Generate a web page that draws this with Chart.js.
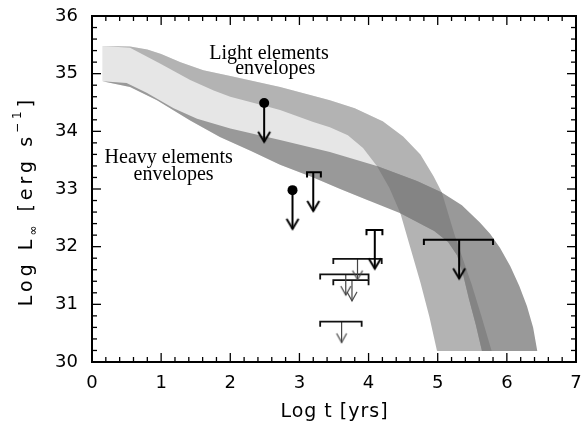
<!DOCTYPE html>
<html><head><meta charset="utf-8">
<script src="https://cdn.jsdelivr.net/npm/chart.js@4/dist/chart.umd.min.js"></script>
<style>html,body{margin:0;padding:0;background:#fff}canvas{display:block}</style>
</head><body>
<canvas id="c" width="585" height="436"></canvas>
<script>
// ---------------- data ----------------
const xTicks = [0, 1, 2, 3, 4, 5, 6, 7];
const yTicks = [30, 31, 32, 33, 34, 35, 36];

// band edges: [log t, log L]
const lightUpper = [[0.15,35.48],[0.55,35.47],[0.80,35.42],[1.00,35.34],[1.28,35.20],[1.61,35.06],[2.00,34.96],[2.72,34.77],[3.44,34.54],[3.80,34.40],[4.21,34.17],[4.50,33.91],[4.75,33.60],[4.94,33.22],[5.06,32.94],[5.14,32.62],[5.24,32.22],[5.36,31.80],[5.49,31.35],[5.63,30.80],[5.78,30.19]];
const lightLower = [[0.15,35.48],[0.55,35.45],[0.99,35.17],[1.42,34.89],[1.76,34.71],[2.00,34.60],[2.48,34.45],[2.72,34.37],[3.20,34.16],[3.44,34.07],[3.70,33.93],[3.92,33.71],[4.12,33.40],[4.30,33.02],[4.46,32.58],[4.60,32.00],[4.75,31.38],[4.88,30.78],[4.99,30.19]];
const heavyUpper = [[0.15,34.87],[0.50,34.84],[0.79,34.67],[1.18,34.40],[1.52,34.22],[2.00,34.05],[2.72,33.85],[3.44,33.64],[4.12,33.40],[4.70,33.14],[5.06,32.94],[5.35,32.72],[5.61,32.42],[5.76,32.22],[5.90,31.98],[6.05,31.66],[6.18,31.32],[6.29,30.97],[6.38,30.60],[6.44,30.19]];
const heavyLower = [[0.15,34.87],[0.55,34.77],[0.94,34.54],[1.42,34.19],[1.85,33.90],[2.30,33.66],[2.72,33.42],[3.20,33.20],[3.59,33.00],[4.00,32.80],[4.46,32.58],[4.95,32.27],[5.15,32.08],[5.28,31.85],[5.37,31.50],[5.45,31.10],[5.55,30.65],[5.64,30.19]];
const tipT = 4.12, joinT = 5.06, crossT = 4.46;

// detections (filled circles with upper-limit arrows)
const detT = [2.49, 2.90];
const detL = [34.49, 32.98];
// upper limits with age ranges (thick)
const ulT  = [3.20, 4.09, 5.31];
const ulLo = [3.11, 3.97, 4.80];
const ulHi = [3.31, 4.20, 5.80];
const ulL  = [33.29, 32.29, 32.12];
// upper limits with age ranges (thin)
const ul2T  = [3.84, 3.67, 3.76, 3.61];
const ul2Lo = [3.49, 3.30, 3.49, 3.30];
const ul2Hi = [4.19, 4.00, 4.00, 3.90];
const ul2L  = [31.79, 31.52, 31.42, 30.70];

// ---------------- styles ----------------
const ARROW_THICK = 0.67, ARROW_THIN = 0.36, CAP = 0.09;
const C_GAP = '#e6e6e6', C_LIGHT = '#b3b3b3', C_HEAVY = '#999999', C_OVER = '#848484';

const pts = a => a.map(([x, y]) => ({x, y}));
const at = (arr, t) => arr.findIndex(p => p[0] === t);

const gapPoly = [...lightUpper.filter(p => p[0] <= 4.21), lightLower[at(lightLower, tipT)], ...heavyLower.filter(p => p[0] <= 4.0).reverse()];
const lightPoly = [...lightUpper, ...lightLower.slice().reverse()];
const heavyPoly = [...heavyUpper, ...heavyLower.slice().reverse()];
const overPoly = [
  ...heavyUpper.slice(at(heavyUpper, tipT), at(heavyUpper, joinT) + 1),
  ...lightUpper.slice(at(lightUpper, joinT) + 1),
  ...heavyLower.slice(at(heavyLower, crossT)).reverse(),
  ...lightLower.slice(at(lightLower, tipT) + 1, at(lightLower, crossT)).reverse()
];

function headCanvas(w, h, lw, color) {
  const s = 2 * Math.ceil(Math.max(w, h) + lw + 1);
  const c = document.createElement('canvas');
  c.width = s; c.height = s;
  const g = c.getContext('2d'), m = s / 2;
  g.strokeStyle = color; g.lineWidth = lw;
  g.beginPath(); g.moveTo(m - w, m - h); g.lineTo(m, m); g.lineTo(m + w, m - h); g.stroke();
  return c;
}
const headThick = headCanvas(6, 10, 2, '#000');
const headThin = headCanvas(5, 9, 1.2, '#444');

const band = (poly, color, order) => ({
  type: 'line', data: pts(poly), fill: 'shape', backgroundColor: color,
  borderWidth: 0, pointRadius: 0, order
});
const lineDs = (data, color, width, order) => ({
  type: 'line', data, fill: false, borderColor: color, borderWidth: width,
  pointRadius: 0, order
});

const datasets = [band(gapPoly, C_GAP, 20), band(lightPoly, C_LIGHT, 19), band(heavyPoly, C_HEAVY, 18), band(overPoly, C_OVER, 17)];

// thick upper limits with brackets
ulT.forEach((t, i) => {
  datasets.push(lineDs([{x: ulLo[i], y: ulL[i] - CAP}, {x: ulLo[i], y: ulL[i]}, {x: ulHi[i], y: ulL[i]}, {x: ulHi[i], y: ulL[i] - CAP}], '#000', 2, 5));
  datasets.push(lineDs([{x: t, y: ulL[i]}, {x: t, y: ulL[i] - ARROW_THICK}], '#000', 2, 5));
});
// thin upper limits
ul2T.forEach((t, i) => {
  datasets.push(lineDs([{x: ul2Lo[i], y: ul2L[i] - CAP}, {x: ul2Lo[i], y: ul2L[i]}, {x: ul2Hi[i], y: ul2L[i]}, {x: ul2Hi[i], y: ul2L[i] - CAP}], '#111', 1.8, 6));
  datasets.push(lineDs([{x: t, y: ul2L[i]}, {x: t, y: ul2L[i] - ARROW_THIN}], '#444', 1.2, 6));
});
// detections
detT.forEach((t, i) => {
  datasets.push(lineDs([{x: t, y: detL[i]}, {x: t, y: detL[i] - ARROW_THICK}], '#000', 2, 5));
});
datasets.push({type: 'scatter', data: detT.map((t, i) => ({x: t, y: detL[i]})), pointStyle: 'circle', pointRadius: 5, backgroundColor: '#000', borderColor: '#000', borderWidth: 0, order: 1});
// arrow heads
datasets.push({type: 'scatter', data: [...ulT.map((t, i) => ({x: t, y: ulL[i] - ARROW_THICK})), ...detT.map((t, i) => ({x: t, y: detL[i] - ARROW_THICK}))], pointStyle: headThick, pointRadius: 5, order: 2});
datasets.push({type: 'scatter', data: ul2T.map((t, i) => ({x: t, y: ul2L[i] - ARROW_THIN})), pointStyle: headThin, pointRadius: 5, order: 3});

// ---------------- decorations plugin ----------------
function minors(major, n) {
  const out = [];
  for (let i = 0; i < major.length - 1; i++)
    for (let k = 1; k < n; k++) out.push(major[i] + (major[i + 1] - major[i]) * k / n);
  return out;
}
function rich(ctx, parts, x, y, rot, spacing) {
  ctx.save();
  ctx.translate(x, y); ctx.rotate(rot);
  ctx.textAlign = 'left'; ctx.textBaseline = 'alphabetic';
  try { ctx.letterSpacing = spacing + 'px'; } catch (e) {}
  let W = 0;
  parts.forEach(p => { ctx.font = p.f; p.w = ctx.measureText(p.t).width; W += p.w; });
  W -= spacing;
  let cx = -W / 2;
  parts.forEach(p => { ctx.font = p.f; ctx.fillText(p.t, cx, p.dy); cx += p.w; });
  ctx.restore();
}
const deco = {
  id: 'deco',
  afterDraw(chart) {
    const {ctx, chartArea: a, scales: {x, y}} = chart;
    ctx.save();
    ctx.strokeStyle = '#000';
    ctx.lineWidth = 1.3;
    const tick = (vals, len) => {
      vals.forEach(v => {
        const px = x.getPixelForValue(v);
        ctx.beginPath(); ctx.moveTo(px, a.bottom); ctx.lineTo(px, a.bottom - len); ctx.stroke();
        ctx.beginPath(); ctx.moveTo(px, a.top); ctx.lineTo(px, a.top + len); ctx.stroke();
      });
    };
    const tickY = (vals, len) => {
      vals.forEach(v => {
        const py = y.getPixelForValue(v);
        ctx.beginPath(); ctx.moveTo(a.left, py); ctx.lineTo(a.left + len, py); ctx.stroke();
        ctx.beginPath(); ctx.moveTo(a.right, py); ctx.lineTo(a.right - len, py); ctx.stroke();
      });
    };
    tick(xTicks, 9); tick(minors(xTicks, 5), 5);
    tickY(yTicks, 9); tickY(minors(yTicks, 5), 5);
    ctx.lineWidth = 2;
    ctx.strokeRect(a.left, a.top, a.right - a.left, a.bottom - a.top);

    // band labels
    ctx.fillStyle = '#000';
    ctx.font = '20px "Liberation Serif"';
    ctx.textAlign = 'center'; ctx.textBaseline = 'alphabetic';
    ctx.fillText('Light elements', x.getPixelForValue(2.56), y.getPixelForValue(35.25));
    ctx.fillText('envelopes', x.getPixelForValue(2.65), y.getPixelForValue(34.99));
    ctx.fillText('Heavy elements', x.getPixelForValue(1.11), y.getPixelForValue(33.45));
    ctx.fillText('envelopes', x.getPixelForValue(1.18), y.getPixelForValue(33.16));

    // axis titles
    const F = '19px "DejaVu Sans"', S = '12px "DejaVu Sans"';
    rich(ctx, [{t: 'Log t [yrs]', f: F, dy: 0}], (a.left + a.right) / 2, 417, 0, 1);
    rich(ctx, [{t: 'Log L', f: F, dy: 0}, {t: '\u221E', f: S, dy: 5}, {t: ' [erg s', f: F, dy: 0}, {t: '\u22121', f: S, dy: -11}, {t: ']', f: F, dy: 0}], 32, 203, -Math.PI / 2, 4);
    ctx.restore();
  }
};

const noPad = s => { s.paddingTop = 0; s.paddingBottom = 0; s.paddingLeft = 0; s.paddingRight = 0; };

new Chart(document.getElementById('c'), {
  type: 'line',
  data: {datasets},
  options: {
    responsive: false, animation: false, devicePixelRatio: 1,
    layout: {padding: {top: 16, right: 9, bottom: 0, left: 0}},
    plugins: {legend: {display: false}, tooltip: {enabled: false}},
    events: [],
    scales: {
      x: {
        type: 'linear', min: 0, max: 7,
        afterFit: s => { s.height = 74; noPad(s); },
        afterBuildTicks: s => { s.ticks = xTicks.map(v => ({value: v})); },
        ticks: {font: {family: 'DejaVu Sans', size: 18}, color: '#000', padding: 11, maxRotation: 0, autoSkip: false},
        grid: {display: false, drawTicks: false}, border: {display: false}
      },
      y: {
        type: 'linear', min: 30, max: 36,
        afterFit: s => { s.width = 92; noPad(s); },
        afterBuildTicks: s => { s.ticks = yTicks.map(v => ({value: v})); },
        ticks: {font: {family: 'DejaVu Sans', size: 18}, color: '#000', padding: 14, autoSkip: false},
        grid: {display: false, drawTicks: false}, border: {display: false}
      }
    }
  },
  plugins: [deco]
});
</script>
</body></html>
